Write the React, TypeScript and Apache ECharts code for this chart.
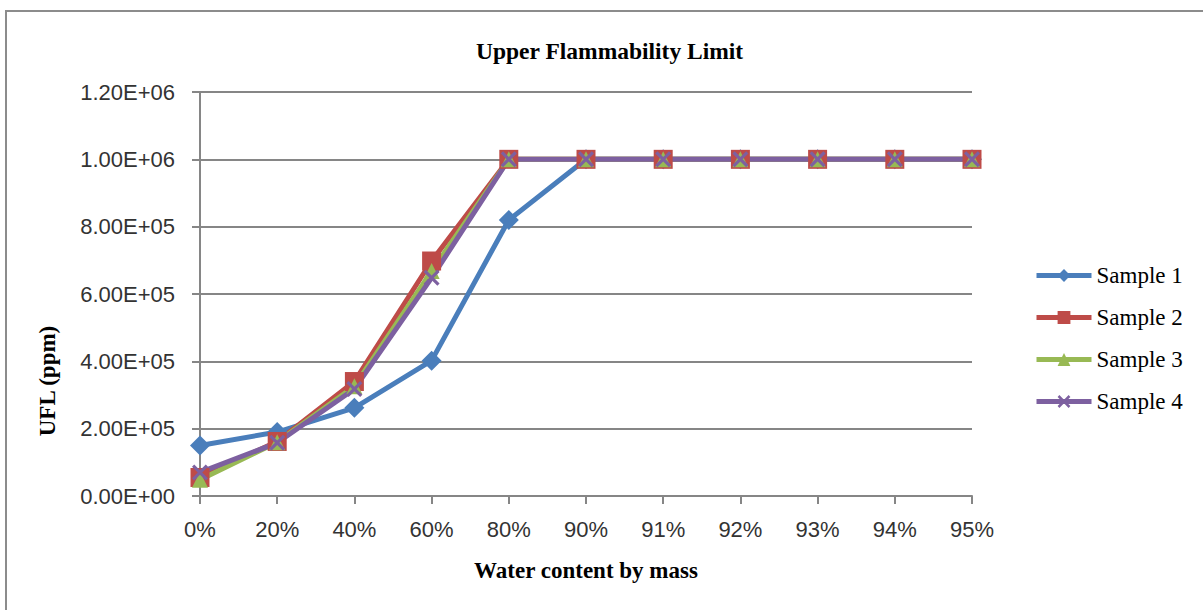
import React, { useEffect, useRef } from "react";
import * as echarts from "echarts";

const categories = ["0%", "20%", "40%", "60%", "80%", "90%", "91%", "92%", "93%", "94%", "95%"];
const sample1 = [150000, 190000, 262000, 402000, 820000, 1000000, 1000000, 1000000, 1000000, 1000000, 1000000];
const sample2 = [55000, 162000, 340000, 698000, 1000000, 1000000, 1000000, 1000000, 1000000, 1000000, 1000000];
const sample3 = [48000, 160000, 326000, 668000, 1000000, 1000000, 1000000, 1000000, 1000000, 1000000, 1000000];
const sample4 = [70000, 158000, 318000, 648000, 1000000, 1000000, 1000000, 1000000, 1000000, 1000000, 1000000];
const seriesNames = ["Sample 1", "Sample 2", "Sample 3", "Sample 4"];
const yTicks = { min: 0, max: 1200000, interval: 200000 };

const fmtExp = (v: number) => {
  const [m, e] = v.toExponential(2).split("e");
  const sign = e.startsWith("-") ? "-" : "+";
  const digits = e.replace(/[+-]/, "").padStart(2, "0");
  return `${m}E${sign}${digits}`;
};

const xPath = "path://M0,1.4 L1.4,0 L5,3.6 L8.6,0 L10,1.4 L6.4,5 L10,8.6 L8.6,10 L5,6.4 L1.4,10 L0,8.6 L3.6,5 Z";

export default function App() {
  const ref = useRef<HTMLDivElement>(null);
  useEffect(() => {
    document.body.style.margin = "0";
    if (!ref.current) return;
    const chart = echarts.init(ref.current, undefined, { renderer: "svg" });
    const grey = "#868686";
    const serif = "Liberation Serif";
    const mk = (name: string, data: number[], color: string, symbol: string, size: number) => ({
      name,
      type: "line",
      data,
      symbol,
      symbolSize: size,
      showAllSymbol: true,
      lineStyle: { color, width: 5 },
      itemStyle: { color, borderColor: color, borderWidth: 0 },
      emphasis: { disabled: true },
    });
    chart.setOption({
      animation: false,
      backgroundColor: "#ffffff",
      title: {
        text: "Upper Flammability Limit",
        left: 471,
        top: 34,
        textStyle: { fontFamily: serif, fontWeight: "bold", fontSize: 23.5, color: "#000" },
      },
      legend: {
        orient: "vertical",
        left: 1029,
        top: 259,
        itemWidth: 55,
        itemHeight: 16,
        itemGap: 19,
        data: seriesNames,
        lineStyle: { width: 5 },
        textStyle: { fontFamily: serif, fontSize: 23, color: "#000" },
      },
      grid: { left: 200, right: 231, top: 92, bottom: 114, containLabel: false },
      xAxis: {
        type: "category",
        data: categories,
        boundaryGap: false,
        axisLine: { lineStyle: { color: grey, width: 2 } },
        axisTick: { show: true, length: 8, lineStyle: { color: grey, width: 2 } },
        axisLabel: { margin: 22, fontFamily: "Liberation Sans", fontSize: 22, color: "#333" },
        splitLine: { show: false },
      },
      yAxis: {
        type: "value",
        min: yTicks.min,
        max: yTicks.max,
        interval: yTicks.interval,
        axisLine: { show: true, lineStyle: { color: grey, width: 2 } },
        axisTick: { show: true, length: 8, lineStyle: { color: grey, width: 2 } },
        axisLabel: { margin: 25, fontFamily: "Liberation Sans", fontSize: 22, color: "#333", formatter: fmtExp },
        splitLine: { show: true, lineStyle: { color: grey, width: 2 } },
      },
      graphic: [
        {
          type: "rect",
          silent: true,
          shape: { x: 6, y: 11, width: 1300, height: 700 },
          style: { fill: "none", stroke: "#8c8c8c", lineWidth: 2 },
        },
        {
          type: "text",
          x: 586,
          y: 570,
          style: {
            text: "Water content by mass",
            fontFamily: serif,
            fontWeight: "bold",
            fontSize: 23,
            fill: "#000",
            align: "center",
            verticalAlign: "middle",
          },
        },
        {
          type: "text",
          x: 47,
          y: 381,
          rotation: Math.PI / 2,
          style: {
            text: "UFL (ppm)",
            fontFamily: serif,
            fontWeight: "bold",
            fontSize: 23,
            fill: "#000",
            align: "center",
            verticalAlign: "middle",
          },
        },
      ],
      series: [
        mk(seriesNames[0], sample1, "#4A7EBB", "diamond", 20),
        mk(seriesNames[1], sample2, "#BE4B48", "rect", 19),
        mk(seriesNames[2], sample3, "#98B954", "triangle", 16),
        mk(seriesNames[3], sample4, "#7D60A0", xPath, 16),
      ],
    });
    return () => chart.dispose();
  }, []);
  return <div ref={ref} style={{ width: 1203, height: 610 }} />;
}
